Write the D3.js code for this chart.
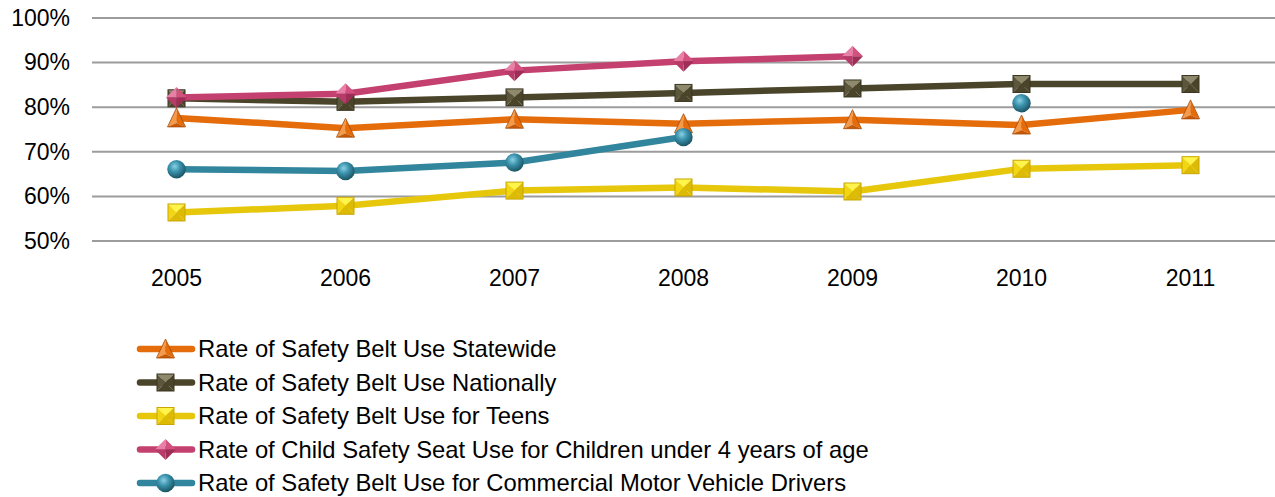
<!DOCTYPE html>
<html>
<head>
<meta charset="utf-8">
<script src="https://cdn.jsdelivr.net/npm/d3@7"></script>
<style>
  html, body { margin: 0; padding: 0; background: #fff; }
  svg { display: block; font-family: "Liberation Sans", Arial, sans-serif; }
</style>
</head>
<body>
<svg id="chart" width="1275" height="497"></svg>
<script>
// Survey years on the category axis
const years = ["2005", "2006", "2007", "2008", "2009", "2010", "2011"];
const yTicks = [0.5, 0.6, 0.7, 0.8, 0.9, 1.0];

// Usage rates (fractions); null = not surveyed that year
const statewide  = [0.776, 0.753, 0.773, 0.763, 0.772, 0.760, 0.794];
const nationally = [0.820, 0.812, 0.822, 0.832, 0.842, 0.852, 0.852];
const teens      = [0.564, 0.579, 0.613, 0.620, 0.611, 0.662, 0.670];
const child      = [0.822, 0.830, 0.882, 0.903, 0.914, null, null];
const commercial = [0.661, 0.657, 0.676, 0.733, null, 0.809, null];

const seriesNames = [
  "Rate of Safety Belt Use Statewide",
  "Rate of Safety Belt Use Nationally",
  "Rate of Safety Belt Use for Teens",
  "Rate of Child Safety Seat Use for Children under 4 years of age",
  "Rate of Safety Belt Use for Commercial Motor Vehicle Drivers"
];

const series = [
  { name: seriesNames[0], values: statewide,  shape: "triangle", line: "#E46C0A",
    shades: ["#F39A4C", "#E46C0A", "#C85A06", "#A84A04"] },
  { name: seriesNames[1], values: nationally, shape: "square",   line: "#4A452A",
    shades: ["#8E896C", "#5C573C", "#4A452A", "#3A3620"] },
  { name: seriesNames[2], values: teens,      shape: "square",   line: "#E6C70C",
    shades: ["#FFF44A", "#F2D612", "#DDBB04", "#C9A600"] },
  { name: seriesNames[3], values: child,      shape: "diamond",  line: "#C3406F",
    shades: ["#E77FA6", "#D2517F", "#B83A68", "#9E2E57"] },
  { name: seriesNames[4], values: commercial, shape: "circle",   line: "#31859C",
    shades: ["#8BD0E4", "#3B93AD", "#2A7389", "#1C5565"] }
];

const svg = d3.select("#chart");
const plot = { left: 92, right: 1275, top: 18, bottom: 241 };

const x = d3.scaleBand().domain(years).range([plot.left, plot.right]);
const cx = d => x(d) + x.bandwidth() / 2;
const y = d3.scaleLinear().domain([0.5, 1.0]).range([plot.bottom, plot.top]);

const defs = svg.append("defs");
series.forEach((s, i) => {
  const rg = defs.append("radialGradient").attr("id", "ball" + i)
    .attr("cx", "40%").attr("cy", "35%").attr("r", "65%");
  rg.append("stop").attr("offset", "0%").attr("stop-color", s.shades[0]);
  rg.append("stop").attr("offset", "45%").attr("stop-color", s.shades[1]);
  rg.append("stop").attr("offset", "100%").attr("stop-color", s.shades[3]);
});

// Bevelled marker glyphs drawn around (0,0)
function drawMarker(g, s, i) {
  const sh = s.shades;
  if (s.shape === "square") {
    const h = 8.5;
    const faces = [
      [[-h, -h], [h, -h], [0, 0], sh[0]],
      [[-h, -h], [-h, h], [0, 0], sh[1]],
      [[h, -h], [h, h], [0, 0], sh[2]],
      [[-h, h], [h, h], [0, 0], sh[2]]
    ];
    faces.forEach(f => g.append("path")
      .attr("d", `M${f[0]}L${f[1]}L${f[2]}Z`).attr("fill", f[3]));
    g.append("rect").attr("x", -h).attr("y", -h).attr("width", 2 * h).attr("height", 2 * h)
      .attr("fill", "none").attr("stroke", sh[3]).attr("stroke-width", 1);
  } else if (s.shape === "diamond") {
    const r = 10.5;
    const faces = [
      [[-r, 0], [0, -r], sh[0]],
      [[0, -r], [r, 0], sh[1]],
      [[r, 0], [0, r], sh[3]],
      [[0, r], [-r, 0], sh[2]]
    ];
    faces.forEach(f => g.append("path")
      .attr("d", `M${f[0]}L${f[1]}L0,0Z`).attr("fill", f[2]));
  } else if (s.shape === "triangle") {
    const w = 9, t = -10, b = 9;
    g.append("path").attr("d", `M0,${t}L${-w},${b}L0,${b - 4}Z`).attr("fill", sh[0]);
    g.append("path").attr("d", `M0,${t}L${w},${b}L0,${b - 4}Z`).attr("fill", sh[1]);
    g.append("path").attr("d", `M${-w},${b}L${w},${b}L0,${b - 4}Z`).attr("fill", sh[2]);
    g.append("path").attr("d", `M0,${t}L${-w},${b}L${w},${b}Z`)
      .attr("fill", "none").attr("stroke", sh[3]).attr("stroke-width", 0.8);
  } else {
    g.append("circle").attr("r", 9.2).attr("fill", `url(#ball${i})`);
  }
}

// Horizontal gridlines
svg.append("g").selectAll("line").data(yTicks).join("line")
  .attr("x1", plot.left).attr("x2", plot.right)
  .attr("y1", d => y(d)).attr("y2", d => y(d))
  .attr("stroke", "#9c9c9c").attr("stroke-width", 2);

// Value axis labels
const yAxis = d3.axisLeft(y).tickValues(yTicks).tickFormat(d3.format(".0%")).tickSize(0).tickPadding(0);
svg.append("g").attr("transform", "translate(70,0)").call(yAxis)
  .call(g => g.select(".domain").remove())
  .selectAll("text").attr("font-size", 23).attr("fill", "#000")
  .attr("font-family", "'Liberation Sans', Arial, sans-serif");

// Category axis labels
const xAxis = d3.axisBottom(x).tickSize(0).tickPadding(0);
svg.append("g").attr("transform", `translate(0,${plot.bottom + 29})`).call(xAxis)
  .call(g => g.select(".domain").remove())
  .selectAll("text").attr("font-size", 23).attr("fill", "#000")
  .attr("font-family", "'Liberation Sans', Arial, sans-serif");

// Series: line then markers, in order so later series sit on top
const line = d3.line()
  .defined(d => d.v !== null)
  .x(d => cx(d.year)).y(d => y(d.v));

series.forEach((s, i) => {
  const pts = years.map((yr, k) => ({ year: yr, v: s.values[k] }));
  const g = svg.append("g");
  g.append("path").datum(pts).attr("d", line)
    .attr("fill", "none").attr("stroke", s.line).attr("stroke-width", 6.5)
    .attr("stroke-linejoin", "round");
  pts.filter(p => p.v !== null).forEach(p => {
    const m = g.append("g").attr("transform", `translate(${cx(p.year)},${y(p.v)})`);
    drawMarker(m, s, i);
  });
});

// Legend
const legend = svg.append("g");
series.forEach((s, i) => {
  const base = 357 + i * 33.5;
  const row = legend.append("g").attr("transform", `translate(0,${base - 8})`);
  row.append("line").attr("x1", 140).attr("x2", 192).attr("y1", 0).attr("y2", 0)
    .attr("stroke", s.line).attr("stroke-width", 6.5).attr("stroke-linecap", "round");
  const m = row.append("g").attr("transform", "translate(165.5,0)");
  drawMarker(m, s, i);
  legend.append("text").attr("x", 198).attr("y", base)
    .attr("font-size", 23.8).attr("fill", "#000").text(s.name);
});
</script>
</body>
</html>
